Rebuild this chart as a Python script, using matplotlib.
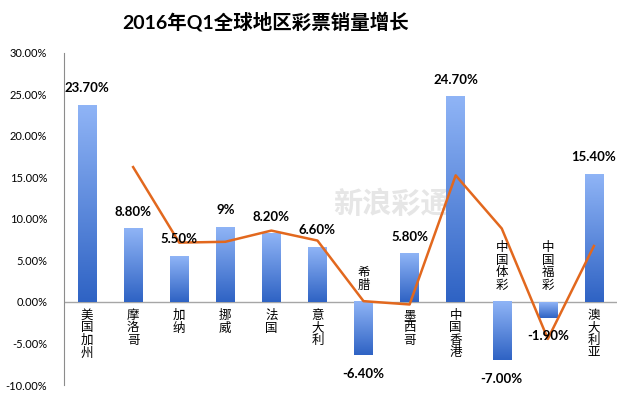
import matplotlib
matplotlib.use("Agg")
import matplotlib.pyplot as plt
import numpy as np
from matplotlib.colors import LinearSegmentedColormap

plt.rcParams['font.family'] = ['Lato', 'Noto Sans CJK SC', 'DejaVu Sans']

# data
regions = ["美国加州", "摩洛哥", "加纳", "挪威", "法国", "意大利", "希腊",
           "墨西哥", "中国香港", "中国体彩", "中国福彩", "澳大利亚"]
growth = [23.7, 8.8, 5.5, 9.0, 8.2, 6.6, -6.4, 5.8, 24.7, -7.0, -1.9, 15.4]
value_labels = ["23.70%", "8.80%", "5.50%", "9%", "8.20%", "6.60%", "-6.40%",
                "5.80%", "24.70%", "-7.00%", "-1.90%", "15.40%"]
trend = [np.nan, 16.25, 7.15, 7.25, 8.6, 7.4, 0.1, -0.3, 15.25, 8.85, -4.45, 6.75]

fig = plt.figure(figsize=(6.4, 3.95), dpi=100)
ax = fig.add_axes([0.1, 0.0253, 0.864, 0.8407])

x = np.arange(len(regions))
bars = ax.bar(x, growth, width=0.4, color='none', edgecolor='none', zorder=2)

# gradient fill: light at top, darker at bottom
cmap = LinearSegmentedColormap.from_list("blu", ["#2F63C4", "#8FB4F6"])
grad = np.linspace(0, 1, 100).reshape(-1, 1)
for b in bars:
    x0, y0 = b.get_x(), b.get_y()
    w, h = b.get_width(), b.get_height()
    ylo, yhi = min(y0, y0 + h), max(y0, y0 + h)
    ax.imshow(grad, cmap=cmap, extent=[x0, x0 + w, ylo, yhi], origin='lower',
              aspect='auto', zorder=2)

ax.plot(x, trend, color='#E2681E', lw=1.8, zorder=3)

# value labels
for xi, v, lab in zip(x, growth, value_labels):
    if v >= 0:
        ax.annotate(lab, (xi, v), xytext=(0, 8), textcoords='offset points',
                    ha='center', va='bottom', fontsize=9.5, fontweight='bold', zorder=4)
    else:
        ax.annotate(lab, (xi, v), xytext=(0, -9), textcoords='offset points',
                    ha='center', va='top', fontsize=9.5, fontweight='bold', zorder=4)

# category labels, stacked vertically
for xi, v, name in zip(x, growth, regions):
    txt = "\n".join(name)
    if v >= 0:
        ax.annotate(txt, (xi, 0), xytext=(0, -5), textcoords='offset points',
                    ha='center', va='top', fontsize=9, linespacing=1.05, zorder=4)
    else:
        ax.annotate(txt, (xi, 0), xytext=(0, 8), textcoords='offset points',
                    ha='center', va='bottom', fontsize=9, linespacing=1.05, zorder=4)

# faint watermark
ax.text(6.6, 11.8, "新浪彩通", fontsize=21, fontweight='bold', color='#E6E6E6',
        ha='center', va='center', zorder=1, style='italic')

ax.set_xlim(-0.5, len(regions) - 0.5)
ax.set_ylim(-10, 30)
ax.set_yticks(np.arange(-10, 31, 5))
ax.yaxis.set_major_formatter(plt.FuncFormatter(lambda v, p: f"{v:.2f}%"))
ax.tick_params(axis='y', length=0, labelsize=8, pad=12)
ax.set_xticks([])
for s in ['top', 'right', 'bottom']:
    ax.spines[s].set_visible(False)
ax.spines['left'].set_color('#8C8C8C')
ax.axhline(0, color='#A6A6A6', lw=1, zorder=1)

fig.text(0.415, 0.945, "2016年Q1全球地区彩票销量增长", ha='center', va='center',
         fontsize=14, fontweight='bold')

fig.savefig("out.png", dpi=100)
